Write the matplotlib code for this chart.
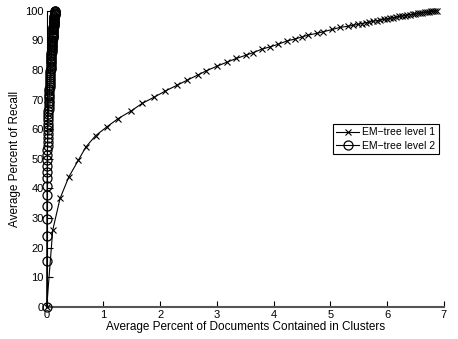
import matplotlib
matplotlib.use("Agg")
import matplotlib.pyplot as plt

plt.rcParams['font.family'] = ['Liberation Sans', 'DejaVu Sans']

# EM-tree level 1 (x markers)
docs_l1 = [0, 0.106, 0.235, 0.39, 0.56, 0.69, 0.86, 1.06, 1.26, 1.49, 1.68, 1.90,
           2.09, 2.29, 2.48, 2.66, 2.81, 3.00, 3.17, 3.34, 3.51, 3.64, 3.80, 3.93,
           4.08, 4.23, 4.38, 4.50, 4.61, 4.76, 4.87, 5.03, 5.17, 5.31,
           5.40, 5.48, 5.55, 5.62, 5.69, 5.76, 5.82, 5.88, 5.94, 6.00, 6.06, 6.11,
           6.16, 6.21, 6.26, 6.31, 6.36, 6.41, 6.45, 6.50, 6.54, 6.58, 6.62, 6.66,
           6.70, 6.74, 6.78, 6.81, 6.85, 6.88]
recall_l1 = [0, 25.9, 36.6, 43.9, 49.6, 54.0, 57.8, 60.8, 63.6, 66.2, 68.7, 70.9,
             72.9, 74.8, 76.6, 78.3, 79.7, 81.3, 82.6, 83.9, 85.0, 85.9, 87.1, 87.8,
             88.7, 89.8, 90.5, 91.2, 91.8, 92.4, 92.9, 93.7, 94.4, 94.8,
             95.1, 95.4, 95.7, 96.0, 96.2, 96.5, 96.7, 96.9, 97.1, 97.3, 97.5, 97.7,
             97.9, 98.1, 98.2, 98.4, 98.6, 98.7, 98.9, 99.0, 99.2, 99.3, 99.4, 99.5,
             99.6, 99.7, 99.8, 99.9, 100.0, 100.0]

# EM-tree level 2 (circle markers)
docs_l2 = [0.0, 0.001, 0.002, 0.003, 0.004, 0.005, 0.006, 0.007, 0.008, 0.009,
           0.010, 0.011, 0.012, 0.014, 0.015, 0.016, 0.018, 0.019, 0.021, 0.022,
           0.024, 0.026, 0.028, 0.030, 0.032, 0.034, 0.036, 0.038, 0.040, 0.042,
           0.044, 0.046, 0.048, 0.050, 0.052, 0.054, 0.056, 0.058, 0.060, 0.062,
           0.064, 0.066, 0.068, 0.070,
           0.072, 0.073, 0.075, 0.076, 0.078, 0.080, 0.081, 0.083, 0.084, 0.086,
           0.088, 0.089, 0.091, 0.092, 0.094, 0.096, 0.097, 0.099, 0.100, 0.102,
           0.104, 0.105, 0.107, 0.108, 0.110, 0.112, 0.113, 0.115, 0.116, 0.118,
           0.120, 0.121, 0.123, 0.124, 0.126, 0.128, 0.129, 0.131, 0.132, 0.134,
           0.136, 0.137, 0.139, 0.140, 0.142, 0.144, 0.145, 0.147, 0.148]
recall_l2 = [0, 15.5, 23.9, 29.5, 34.0, 37.7, 40.8, 43.4, 45.6, 47.7,
             49.6, 51.3, 52.9, 54.4, 55.8, 57.1, 58.4, 59.6, 60.8, 61.9,
             63.0, 64.0, 65.0, 66.0, 66.9, 67.8, 68.7, 69.6, 70.4, 71.2,
             72.0, 72.8, 73.6, 74.3, 75.0, 75.7, 76.4, 77.1, 77.8, 78.4,
             79.0, 79.6, 80.2, 80.8,
             81.4, 82.0, 82.6, 83.1, 83.7, 84.2, 84.7, 85.2, 85.7, 86.2,
             86.7, 87.2, 87.7, 88.1, 88.6, 89.0, 89.5, 89.9, 90.3, 90.7,
             91.1, 91.5, 91.9, 92.3, 92.7, 93.0, 93.4, 93.8, 94.1, 94.5,
             94.8, 95.1, 95.5, 95.8, 96.1, 96.4, 96.7, 97.0, 97.3, 97.6,
             97.9, 98.2, 98.5, 98.8, 99.0, 99.3, 99.5, 99.8, 100.0]

fig = plt.figure(figsize=(4.58, 3.39), dpi=100)
ax = fig.add_axes([0.102, 0.095, 0.867, 0.873])

ax.plot(docs_l1, recall_l1, color='black', lw=0.8, marker='x', ms=4.5,
        mew=0.8, label='EM\u2212tree level 1', clip_on=False, zorder=3)
ax.plot(docs_l2, recall_l2, color='black', lw=0.8, marker='o', ms=6.5,
        mfc='none', mew=0.9, label='EM\u2212tree level 2', clip_on=False,
        zorder=3)

ax.set_xlim(0, 7)
ax.set_ylim(0, 100)
ax.set_xticks(range(0, 8))
ax.set_yticks(range(0, 101, 10))
ax.spines['top'].set_visible(False)
ax.spines['right'].set_visible(False)
ax.spines['left'].set_linewidth(0.8)
ax.spines['bottom'].set_linewidth(1.5)
ax.spines['bottom'].set_color('#555555')
ax.tick_params(direction='in', length=4, width=0.8, labelsize=8, pad=2,
               colors='black')
ax.set_xlabel('Average Percent of Documents Contained in Clusters', fontsize=8.5,
              labelpad=1)
ax.set_ylabel('Average Percent of Recall', fontsize=8.5, labelpad=3)

leg = ax.legend(loc='center right', bbox_to_anchor=(0.987, 0.567), fontsize=7.5,
                fancybox=False, edgecolor='black', framealpha=1,
                handlelength=2.2, borderpad=0.3, labelspacing=0.3,
                handletextpad=0.3, borderaxespad=0)
leg.get_frame().set_linewidth(0.8)

fig.savefig('out.png', dpi=100)
